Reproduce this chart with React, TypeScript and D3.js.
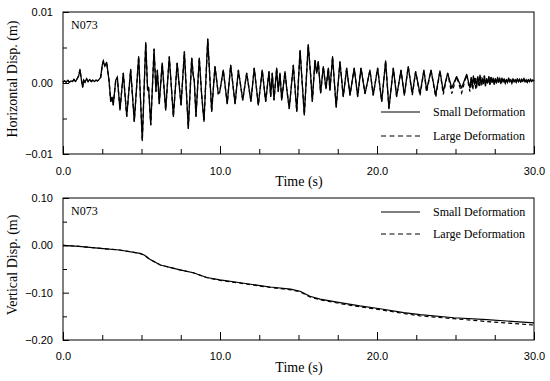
import { useEffect, useRef } from "react";
import * as d3 from "d3";

// time (s), horizontal displacement (m)
const smallHoriz: [number, number][] = [
  [0, 0.0001], [0.1, 0.0003], [0.2, 0.0001], [0.3, 0.0004], [0.4, 0.0001], [0.5, 0.0003],
  [0.6, 0.0002], [0.7, 0.0005], [0.8, 0.0002], [0.9, 0.0006], [1.0, 0.001], [1.08, 0.0019],
  [1.15, 0.0008], [1.25, -0.0006], [1.32, 0.0004], [1.4, 0.0001], [1.5, 0.0006], [1.6, 0.0002],
  [1.7, 0.0005], [1.8, 0.0002], [1.9, 0.0004], [2.0, 0.0002], [2.1, 0.0004], [2.2, 0.0003],
  [2.3, 0.0005], [2.4, 0.0008], [2.5, 0.0025], [2.57, 0.0031], [2.66, 0.0024], [2.78, 0.0029],
  [2.93, 0.0004], [3.04, -0.0026], [3.12, -0.002], [3.2, -0.0031], [3.36, 0.0004], [3.46, 0.0008],
  [3.63, -0.0038], [3.84, 0.0014], [4.06, -0.0047], [4.31, 0.0019], [4.54, -0.0054], [4.82, 0.0037],
  [5.05, -0.0081], [5.27, 0.0057], [5.39, -0.001], [5.45, -0.0006], [5.59, -0.0059], [5.8, 0.0048],
  [5.92, -0.0012], [6.01, 0.0018], [6.13, -0.0029], [6.32, 0.0028], [6.54, -0.0038], [6.77, 0.0037],
  [7.03, -0.0047], [7.27, 0.0028], [7.52, -0.0031], [7.73, 0.0044], [7.98, -0.0064], [8.2, 0.0035],
  [8.3, 0.001], [8.36, 0.0004], [8.47, -0.0047], [8.68, 0.0035], [8.83, -0.0016], [8.98, -0.0054],
  [9.22, 0.0062], [9.47, -0.004], [9.68, 0.0023], [9.89, -0.0015], [9.98, -0.0013], [10.21, 0.0018],
  [10.46, -0.0029], [10.68, 0.0025], [10.96, -0.0029], [11.17, 0.0018], [11.45, -0.0024], [11.7, 0.0014],
  [11.97, -0.0026], [12.18, 0.0021], [12.44, -0.0031], [12.69, 0.0018], [12.91, -0.0026], [13.12, 0.0016],
  [13.23, -0.0019], [13.33, 0.0014], [13.44, -0.0024], [13.61, 0.0021], [13.71, -0.0012], [13.82, 0.0014],
  [13.93, -0.0024], [14.14, 0.0016], [14.25, -0.0008], [14.41, -0.0036], [14.67, 0.0025], [14.89, -0.004],
  [15.1, 0.0046], [15.37, -0.0045], [15.62, 0.0054], [15.78, 0.0009], [15.88, -0.0026], [16.05, 0.0032],
  [16.16, 0.0014], [16.26, 0.003], [16.41, -0.0014], [16.58, 0.0023], [16.75, -0.0008], [16.9, 0.0021],
  [17.0, -0.001], [17.17, 0.0037], [17.4, -0.0034], [17.64, 0.003], [17.85, -0.0019], [18.07, 0.0021],
  [18.28, -0.0017], [18.55, 0.0021], [18.77, -0.0019], [18.98, 0.0021], [19.24, -0.0015], [19.55, 0.0018],
  [19.76, -0.0017], [20.04, 0.0021], [20.3, -0.0026], [20.55, 0.0031], [20.76, -0.0036], [21.04, 0.0021],
  [21.25, -0.0019], [21.53, 0.0018], [21.74, -0.0017], [21.99, 0.0023], [22.25, -0.0015], [22.46, 0.0016],
  [22.74, -0.0015], [22.99, 0.0018], [23.16, -0.001], [23.44, 0.0018], [23.74, -0.0017], [24.01, 0.0017],
  [24.22, -0.0012], [24.5, 0.0014], [24.76, -0.0007], [25.07, 0.0009], [25.39, -0.0007], [25.71, 0.0012],
  [25.92, -0.0007], [26.0, 0.0008], [26.07, -0.0004], [26.14, 0.001], [26.21, -0.0002], [26.28, 0.0006],
  [26.35, -0.0006], [26.42, 0.0009], [26.49, 0.0], [26.56, 0.0011], [26.63, -0.0003], [26.7, 0.0007],
  [26.77, -0.0001], [26.84, 0.001], [26.91, -0.0004], [26.98, 0.0006], [27.05, 0.0], [27.12, 0.0009],
  [27.19, -0.0002], [27.26, 0.0008], [27.33, 0.0001], [27.4, 0.0007], [27.47, -0.0002], [27.54, 0.0006],
  [27.61, 0.0], [27.68, 0.0008], [27.75, 0.0001], [27.82, 0.0006], [27.89, -0.0001], [27.96, 0.0007],
  [28.03, 0.0002], [28.1, 0.0006], [28.17, 0.0], [28.24, 0.0005], [28.31, 0.0001], [28.38, 0.0007],
  [28.45, 0.0002], [28.52, 0.0005], [28.59, 0.0], [28.66, 0.0006], [28.73, 0.0002], [28.8, 0.0005],
  [28.87, 0.0001], [28.94, 0.0006], [29.01, 0.0002], [29.08, 0.0005], [29.15, 0.0001], [29.22, 0.0005],
  [29.29, 0.0002], [29.36, 0.0006], [29.43, 0.0002], [29.5, 0.0005], [29.57, 0.0001], [29.64, 0.0005],
  [29.71, 0.0002], [29.78, 0.0005], [29.85, 0.0002], [29.92, 0.0004], [30.0, 0.0003],
];

// large deformation differs only after ~22 s
const largeHorizTail: [number, number][] = [
  [22.25, -0.0017], [22.46, 0.0016], [22.74, -0.0018], [22.99, 0.0018], [23.16, -0.0013], [23.44, 0.0018],
  [23.74, -0.002], [24.01, 0.0017], [24.22, -0.0016], [24.5, 0.0014], [24.76, -0.0015], [25.07, 0.0009],
  [25.39, -0.0014], [25.71, 0.0012], [25.92, -0.0012], [26.0, 0.0006], [26.1, -0.001], [26.2, 0.0009],
  [26.3, -0.0009], [26.4, 0.0008], [26.5, -0.0006], [26.6, 0.0009], [26.7, -0.0004],
];

// time (s), vertical displacement (m)
const smallVert: [number, number][] = [
  [0, 0], [1, -0.002], [2.4, -0.0066], [3.6, -0.0099], [4.9, -0.017], [5.2, -0.021], [5.5, -0.029],
  [6.2, -0.0416], [7.45, -0.052], [8.3, -0.058], [9.15, -0.068], [10, -0.073], [11.3, -0.079],
  [12.55, -0.085], [13.2, -0.088], [14.5, -0.0925], [15.1, -0.097], [15.73, -0.1075], [16.37, -0.1135],
  [17.64, -0.121], [18.9, -0.128], [20.2, -0.134], [21.7, -0.142], [22.74, -0.1465], [24.9, -0.153],
  [27, -0.157], [30, -0.164],
];
const largeVert: [number, number][] = [
  [0, 0], [1, -0.002], [2.4, -0.0066], [3.6, -0.0099], [4.9, -0.017], [5.2, -0.021], [5.5, -0.029],
  [6.2, -0.0416], [7.45, -0.052], [8.3, -0.058], [9.15, -0.068], [10, -0.074], [11.3, -0.08],
  [12.55, -0.086], [13.2, -0.089], [14.5, -0.094], [15.1, -0.098], [15.73, -0.109], [16.37, -0.115],
  [17.64, -0.123], [18.9, -0.13], [20.2, -0.136], [21.7, -0.144], [22.74, -0.149], [24.9, -0.155],
  [27, -0.161], [30, -0.1685],
];

const xMajor = [0, 10, 20, 30];
const xMinor = [2.5, 5, 7.5, 12.5, 15, 17.5, 22.5, 25, 27.5];
const horizMajor = [-0.01, 0, 0.01];
const horizMinor = [-0.005, 0.005];
const vertMajor = [-0.2, -0.1, 0, 0.1];
const vertMinor = [-0.15, -0.05, 0.05];
const legendLabels = ["Small Deformation", "Large Deformation"];

const W = 550;
const H = 381;
const serif = "'Liberation Serif', 'Times New Roman', serif";
const sans = "'Liberation Sans', Arial, sans-serif";

export default function App() {
  const ref = useRef<SVGSVGElement>(null);

  useEffect(() => {
    const svg = d3.select(ref.current);
    svg.selectAll("*").remove();

    const left = 63;
    const right = 534;
    const x = d3.scaleLinear().domain([0, 30]).range([left, right]);

    const largeHoriz = smallHoriz
      .filter((d) => d[0] < 22.2)
      .concat(largeHorizTail, smallHoriz.filter((d) => d[0] > 26.72));

    const panels = [
      {
        top: 12, bottom: 154, domain: [-0.01, 0.01], major: horizMajor, minor: horizMinor,
        fmt: d3.format(".2f"), title: "Horizontal Disp. (m)", small: smallHoriz, large: largeHoriz,
        legendY: [112, 136], xPad: 13, width: 1.3,
      },
      {
        top: 198, bottom: 340, domain: [-0.2, 0.1], major: vertMajor, minor: vertMinor,
        fmt: d3.format(".2f"), title: "Vertical Disp. (m)", small: smallVert, large: largeVert,
        legendY: [212, 234], xPad: 12, width: 1.2,
      },
    ];

    panels.forEach((p) => {
      const y = d3.scaleLinear().domain(p.domain).range([p.bottom, p.top]);
      const g = svg.append("g");

      // x axis
      const xa = g.append("g").attr("transform", `translate(0,${p.bottom})`);
      xa.call(d3.axisBottom(x).tickValues(xMajor).tickSize(-8).tickPadding(p.xPad).tickFormat(d3.format(".1f")));
      xa.append("g").call(d3.axisBottom(x).tickValues(xMinor).tickSize(-5).tickFormat(() => ""));
      xa.selectAll(".domain").remove();
      xa.selectAll("text").attr("font-family", sans).attr("font-size", 11).attr("fill", "#000");

      // y axis
      const ya = g.append("g").attr("transform", `translate(${left},0)`);
      ya.call(d3.axisLeft(y).tickValues(p.major).tickSize(-6).tickPadding(10).tickFormat((d) => p.fmt(d as number)));
      ya.append("g").call(d3.axisLeft(y).tickValues(p.minor).tickSize(-4).tickFormat(() => ""));
      ya.selectAll(".domain").remove();
      ya.selectAll("text").attr("font-family", sans).attr("font-size", 11).attr("fill", "#000");
      svg.selectAll(".tick line").attr("stroke", "#000");

      const ln = d3.line<[number, number]>().x((d) => x(d[0])).y((d) => y(d[1]));

      g.append("path").datum(p.large).attr("d", ln).attr("fill", "none").attr("stroke", "#000")
        .attr("stroke-width", p.width).attr("stroke-dasharray", "4,3");
      g.append("path").datum(p.small).attr("d", ln).attr("fill", "none").attr("stroke", "#000")
        .attr("stroke-width", p.width).attr("stroke-linejoin", "round");

      // frame
      g.append("rect").attr("x", left).attr("y", p.top).attr("width", right - left)
        .attr("height", p.bottom - p.top).attr("fill", "none").attr("stroke", "#000").attr("stroke-width", 1);

      g.append("text").attr("x", left + 8).attr("y", p.top + 17).attr("font-family", serif)
        .attr("font-size", 12).text("N073");

      g.append("text")
        .attr("transform", `translate(17,${(p.top + p.bottom) / 2 - 4}) rotate(-90)`)
        .attr("text-anchor", "middle").attr("font-family", serif).attr("font-size", 14)
        .text(p.title);

      g.append("text").attr("x", 299).attr("y", p.bottom + 32).attr("text-anchor", "middle")
        .attr("font-family", serif).attr("font-size", 14).text("Time (s)");

      // legend
      legendLabels.forEach((lab, i) => {
        const ly = p.legendY[i];
        g.append("line").attr("x1", 381).attr("x2", 420).attr("y1", ly).attr("y2", ly)
          .attr("stroke", "#000").attr("stroke-width", 1.2)
          .attr("stroke-dasharray", i === 1 ? "5,3.5" : null);
        g.append("text").attr("x", 433).attr("y", ly + 4).attr("font-family", serif)
          .attr("font-size", 12).text(lab);
      });
    });
  }, []);

  return (
    <svg
      ref={ref}
      width={W}
      height={H}
      style={{ position: "absolute", left: 0, top: 0, background: "#fff" }}
    />
  );
}
